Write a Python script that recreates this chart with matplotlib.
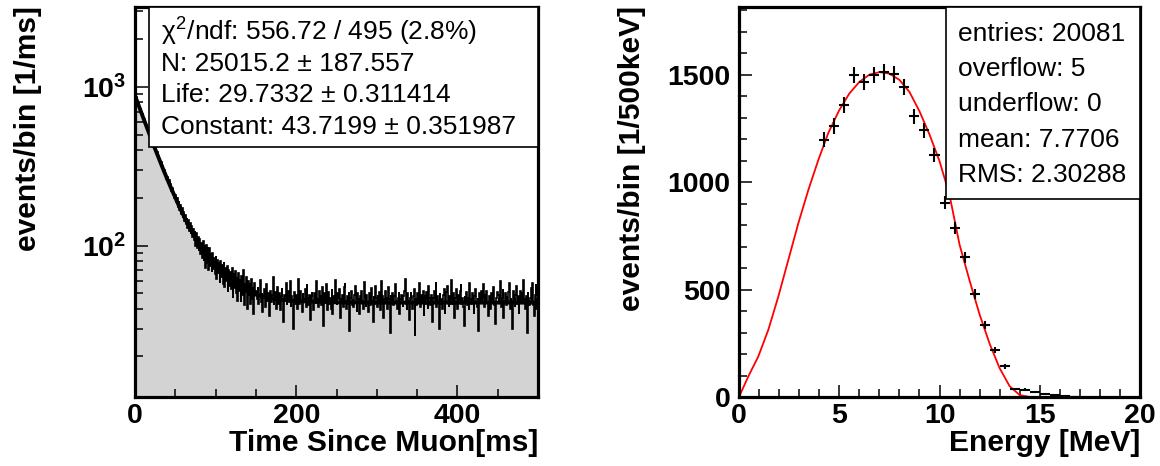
import numpy as np
import matplotlib
matplotlib.use("Agg")
import matplotlib.pyplot as plt
from matplotlib.ticker import FixedLocator, FixedFormatter, MultipleLocator, NullFormatter
from matplotlib.patches import Rectangle

plt.rcParams['font.family'] = ['Liberation Sans', 'DejaVu Sans']
plt.rcParams['mathtext.fontset'] = 'custom'
plt.rcParams['mathtext.rm'] = 'Liberation Sans'
plt.rcParams['mathtext.it'] = 'Liberation Sans'
plt.rcParams['mathtext.bf'] = 'Liberation Sans:bold'

# ---------------- Left panel data: time since muon (1 ms bins, 0-500 ms) ----------------
time_counts = [
    878, 861, 824, 812, 790, 748, 728, 719, 676, 672,
    640, 631, 598, 592, 574, 545, 538, 522, 497, 495,
    468, 466, 441, 437, 411, 414, 388, 391, 365, 368,
    352, 333, 336, 316, 318, 296, 301, 280, 283, 264,
    270, 249, 258, 235, 244, 221, 231, 211, 219, 199,
    208, 188, 199, 176, 190, 168, 180, 159, 172, 150,
    163, 144, 157, 137, 150, 130, 146, 124, 139, 119,
    133, 113, 128, 108, 124, 99, 121, 96, 114, 92,
    110, 88, 104, 84, 107, 80, 100, 72, 101, 78,
    98, 70, 96, 74, 88, 68, 90, 71, 84, 66,
    86, 62, 81, 67, 78, 58, 80, 63, 75, 57,
    79, 55, 72, 60, 74, 51, 70, 56, 68, 53,
    72, 47, 66, 54, 69, 50, 63, 45, 67, 52,
    61, 44, 64, 49, 70, 42, 58, 51, 63, 40,
    60, 48, 57, 43, 62, 46, 55, 37, 58, 50,
    52, 46, 55, 43, 49, 61, 44, 50, 38, 47,
    53, 41, 48, 57, 45, 50, 36, 46, 52, 44,
    49, 63, 42, 47, 51, 40, 55, 46, 43, 50,
    39, 48, 54, 45, 33, 49, 46, 58, 42, 47,
    52, 44, 60, 41, 48, 45, 30, 51, 46, 43,
    49, 40, 62, 47, 43, 52, 45, 38, 50, 46,
    44, 53, 41, 57, 47, 42, 49, 34, 48, 51,
    45, 39, 50, 47, 43, 60, 46, 41, 52, 44,
    48, 42, 55, 31, 47, 50, 44, 57, 39, 46,
    51, 43, 47, 40, 53, 37, 48, 45, 61, 44,
    42, 50, 46, 53, 35, 47, 44, 49, 41, 55,
    58, 45, 40, 48, 43, 51, 29, 47, 52, 42,
    46, 41, 49, 56, 44, 38, 50, 46, 37, 48,
    43, 52, 45, 40, 59, 47, 41, 49, 44, 38,
    50, 46, 42, 54, 45, 33, 48, 43, 56, 47,
    41, 49, 45, 51, 39, 60, 44, 48, 35, 46,
    52, 43, 47, 40, 55, 46, 28, 49, 44, 50,
    42, 48, 53, 57, 45, 40, 47, 51, 37, 46,
    49, 44, 41, 48, 52, 62, 43, 39, 50, 45,
    34, 47, 51, 44, 40, 48, 53, 27, 46, 42,
    50, 44, 58, 47, 41, 49, 45, 52, 36, 48,
    43, 51, 46, 40, 56, 47, 42, 49, 45, 33,
    47, 52, 44, 59, 41, 48, 45, 30, 50, 43,
    46, 40, 49, 53, 37, 45, 51, 56, 44, 41,
    48, 43, 61, 46, 42, 50, 35, 47, 53, 44,
    40, 49, 45, 52, 57, 43, 47, 41, 31, 48,
    45, 51, 42, 47, 39, 58, 46, 43, 50, 44,
    37, 48, 53, 44, 41, 47, 29, 50, 45, 52,
    43, 47, 57, 41, 49, 45, 52, 44, 36, 48,
    46, 40, 50, 44, 55, 48, 42, 32, 47, 51,
    49, 43, 46, 60, 41, 47, 53, 35, 45, 50,
    42, 48, 44, 51, 58, 40, 47, 45, 30, 52,
    46, 41, 49, 56, 43, 48, 37, 45, 52, 44,
    50, 43, 61, 46, 40, 48, 28, 51, 45, 42,
    47, 54, 44, 58, 42, 36, 49, 57, 40, 46,
]
time_edges = list(range(0, 501))

# fit curve (time [ms], events/bin)
fit_time = [0, 5, 10, 15, 20, 25, 30, 35, 40, 45, 50, 55, 60, 65, 70, 75, 80, 85, 90, 95,
            100, 110, 120, 130, 140, 150, 175, 200, 250, 300, 350, 400, 450, 500]
fit_value = [885, 755, 645, 552, 473, 407, 351, 303, 263, 229, 201, 176, 156, 138, 124, 112,
             101, 92, 85, 78, 73, 64.5, 58.6, 54.3, 51.3, 49.1, 46, 44.7, 43.9, 43.7, 43.7,
             43.7, 43.7, 43.7]

left_stats = [r"$\chi^{2}$/ndf: 556.72 / 495 (2.8%)",
              "N: 25015.2 ± 187.557",
              "Life: 29.7332 ± 0.311414",
              "Constant: 43.7199 ± 0.351987"]

# ---------------- Right panel data: energy spectrum (500 keV bins) ----------------
energy_centers = [4.25, 4.75, 5.25, 5.75, 6.25, 6.75, 7.25, 7.75, 8.25, 8.75, 9.25, 9.75,
                  10.25, 10.75, 11.25, 11.75, 12.25, 12.75, 13.25, 13.75, 14.25, 14.75,
                  15.25, 15.75, 16.25, 16.75]
energy_counts = [1197, 1261, 1360, 1498, 1466, 1498, 1513, 1502, 1442, 1306, 1242, 1125,
                 905, 785, 650, 480, 337, 219, 142, 38, 34, 21, 13, 7, 4, 2]

curve_energy = [0.0, 0.46, 0.96, 1.46, 1.96, 2.46, 2.96, 3.46, 3.96, 4.45, 5.0, 5.5, 6.0,
                6.5, 7.0, 7.5, 8.0, 8.5, 9.0, 9.5, 10.0, 10.5, 11.0, 11.5, 12.0, 12.5,
                13.0, 13.5, 14.0, 14.5, 15.0]
curve_value = [0, 95, 188, 312, 467, 638, 809, 964, 1104, 1228, 1335, 1412, 1466, 1500,
               1512, 1505, 1476, 1420, 1330, 1222, 1098, 940, 709, 542, 384, 248, 134,
               50, 9, 0, 0]

right_stats = ["entries: 20081", "overflow: 5", "underflow: 0", "mean: 7.7706",
               "RMS: 2.30288"]

# ---------------- Figure ----------------
W, H = 1160, 466
fig = plt.figure(figsize=(W / 100, H / 100), dpi=100)

def px_axes(x0, y0, x1, y1):
    return fig.add_axes([x0 / W, 1 - y1 / H, (x1 - x0) / W, (y1 - y0) / H])

axL = px_axes(135, 7, 538, 397)
axR = px_axes(739, 7, 1140, 397)

for ax in (axL, axR):
    for s in ax.spines.values():
        s.set_linewidth(2.3)
    ax.tick_params(which='both', direction='in', top=False, right=False,
                   width=1.1, labelsize=20.5)
    ax.tick_params(which='major', length=9)
    ax.tick_params(which='minor', length=5.5)
    ax.tick_params(axis='y', pad=6)
    ax.tick_params(axis='x', pad=4)

# ---- left ----
axL.stairs(time_counts, time_edges, baseline=1, fill=True, color='#d3d3d3', zorder=1)
axL.stairs(time_counts, time_edges, baseline=None, color='black', lw=1.2, zorder=2)
axL.plot(fit_time, fit_value, color='black', lw=2.8, zorder=3)
axL.set_yscale('log')
axL.set_xlim(0, 500)
axL.set_ylim(11.1, 3200)
axL.xaxis.set_major_locator(FixedLocator([0, 200, 400]))
axL.xaxis.set_minor_locator(MultipleLocator(50))
axL.yaxis.set_major_locator(FixedLocator([100, 1000]))
axL.yaxis.set_major_formatter(FixedFormatter([r"$\mathbf{10^{2}}$", r"$\mathbf{10^{3}}$"]))
minor_log = [v * d for d in (10, 100, 1000) for v in range(2, 10) if 11 < v * d < 3200]
axL.yaxis.set_minor_locator(FixedLocator(minor_log))
axL.yaxis.set_minor_formatter(NullFormatter())
for lab in axL.get_xticklabels() + axL.get_yticklabels():
    lab.set_fontweight('bold')

axL.add_patch(Rectangle(((149 - 135) / 403, (397 - 147) / 390), 1 - (149 - 135) / 403,
                        1 - (397 - 147) / 390, transform=axL.transAxes, facecolor='white',
                        edgecolor='black', lw=1.2, zorder=5, clip_on=False))
for i, s in enumerate(left_stats):
    ypix = 32 + 31.7 * i
    axL.text((161 - 135) / 403, (397 - ypix) / 390, s, transform=axL.transAxes,
             fontsize=19, ha='left', va='center', zorder=6)

# ---- right ----
axR.plot(curve_energy, curve_value, color='red', lw=1.3, zorder=2)
axR.errorbar(energy_centers, energy_counts, xerr=0.25, yerr=np.sqrt(energy_counts),
             fmt='none', ecolor='black', elinewidth=1.5, capsize=0, zorder=3)
axR.set_xlim(0, 20)
axR.set_ylim(0, 1815)
axR.xaxis.set_major_locator(MultipleLocator(5))
axR.xaxis.set_minor_locator(MultipleLocator(1))
axR.yaxis.set_major_locator(MultipleLocator(500))
axR.yaxis.set_minor_locator(MultipleLocator(100))
for lab in axR.get_xticklabels() + axR.get_yticklabels():
    lab.set_fontweight('bold')

axR.add_patch(Rectangle(((946 - 739) / 401, (397 - 199) / 390), 1 - (946 - 739) / 401,
                        1 - (397 - 199) / 390, transform=axR.transAxes, facecolor='white',
                        edgecolor='black', lw=1.2, zorder=5, clip_on=False))
for i, s in enumerate(right_stats):
    ypix = 34 + 35.2 * i
    axR.text((958 - 739) / 401, (397 - ypix) / 390, s, transform=axR.transAxes,
             fontsize=19, ha='left', va='center', zorder=6)

# ---- axis titles ----
lab_font = dict(fontsize=21.6, fontweight='bold')
fig.text(28 / W, 1 - 6 / H, "events/bin [1/ms]", rotation=90, ha='center', va='top', **lab_font)
fig.text(632 / W, 1 - 6 / H, "events/bin [1/500keV]", rotation=90, ha='center', va='top', **lab_font)
fig.text(538 / W, 1 - 443 / H, "Time Since Muon[ms]", ha='right', va='center', **lab_font)
fig.text(1140 / W, 1 - 443 / H, "Energy [MeV]", ha='right', va='center', **lab_font)

fig.savefig("out.png", dpi=100)
